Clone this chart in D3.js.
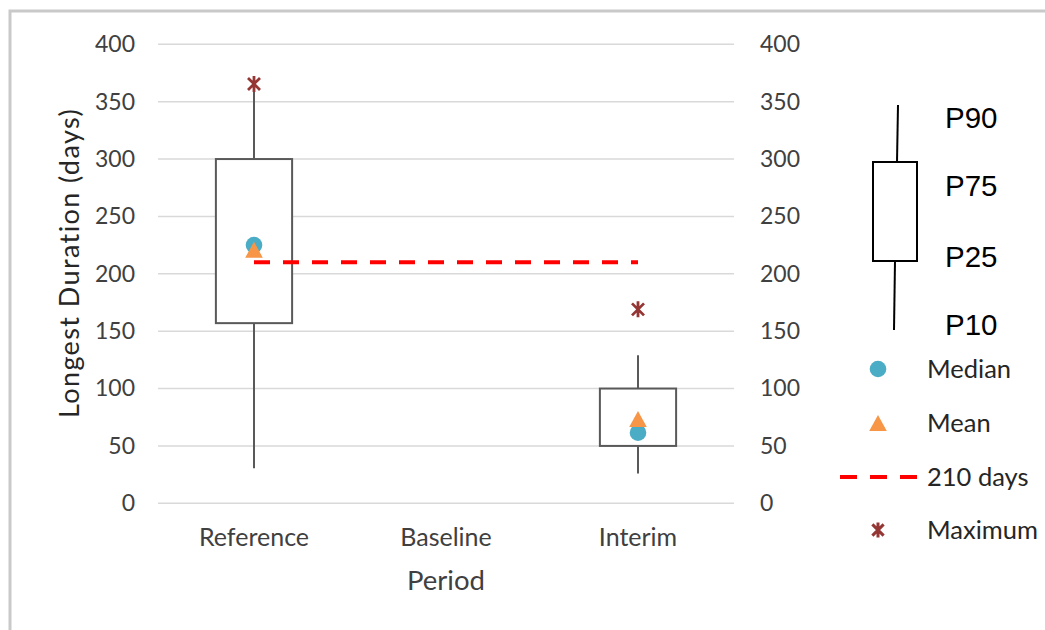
<!DOCTYPE html>
<html>
<head>
<meta charset="utf-8">
<script src="https://cdn.jsdelivr.net/npm/d3@7"></script>
<style>
  html, body { margin: 0; padding: 0; background: #ffffff; }
  svg { display: block; }
</style>
</head>
<body>
<svg id="chart" width="1045" height="630"></svg>
<script>
// ---- data ----
const categories = ["Reference", "Baseline", "Interim"];
const boxCategories = ["Reference", "Interim"];
const p10 = [30.5, 26];
const p25 = [157, 50];
const p75 = [300, 100];
const p90 = [362, 129];
const medians = [225, 61.5];
const means = [221, 73.5];
const maxima = [365.5, 169];
const thresholdDays = 210;
const yTicks = [0, 50, 100, 150, 200, 250, 300, 350, 400];
const legendPercentiles = ["P90", "P75", "P25", "P10"];
const legendItems = ["Median", "Mean", "210 days", "Maximum"];

// ---- layout ----
const svg = d3.select("#chart");
const W = 1045, H = 630;
const plot = { left: 158, right: 734, top: 44.3, bottom: 503.3 };
const calibri = "Lato, 'Open Sans', sans-serif";
const colMedian = "#4bacc6", colMean = "#f79646", colMax = "#943634", colLine = "#ff0000";

// frame
svg.append("rect").attr("x", 10).attr("y", 11).attr("width", W + 40).attr("height", H + 40)
  .attr("fill", "#ffffff").attr("stroke", "#c9c9c9").attr("stroke-width", 3);

const x = d3.scaleBand().domain(categories).range([plot.left, plot.right]).padding(0);
const xc = c => x(c) + x.bandwidth() / 2;
const y = d3.scaleLinear().domain([0, 400]).range([plot.bottom, plot.top]);

// gridlines
svg.append("g").selectAll("line").data(yTicks).join("line")
  .attr("x1", plot.left).attr("x2", plot.right)
  .attr("y1", d => y(d)).attr("y2", d => y(d))
  .attr("stroke", "#d9d9d9").attr("stroke-width", 1.5);

// left axis
const leftAxis = svg.append("g").attr("transform", `translate(${plot.left},0)`)
  .call(d3.axisLeft(y).tickValues(yTicks).tickSize(0).tickPadding(23));
// right axis
const rightAxis = svg.append("g").attr("transform", `translate(${plot.right},0)`)
  .call(d3.axisRight(y).tickValues(yTicks).tickSize(0).tickPadding(26));
[leftAxis, rightAxis].forEach(a => {
  a.select(".domain").remove();
  a.selectAll("text").attr("font-family", calibri).attr("font-size", 23)
    .attr("fill", "#404040");
});

// bottom axis labels
const bottomAxis = svg.append("g").attr("transform", `translate(0,${plot.bottom})`)
  .call(d3.axisBottom(x).tickSize(0).tickPadding(25));
bottomAxis.select(".domain").remove();
bottomAxis.selectAll("text").attr("font-family", calibri).attr("font-size", 25)
  .attr("fill", "#404040");

// axis titles
svg.append("text").attr("x", xc("Baseline")).attr("y", 590)
  .attr("text-anchor", "middle").attr("font-family", calibri).attr("font-size", 27.5)
  .attr("fill", "#404040").text("Period");
svg.append("text").attr("transform", `translate(79,263) rotate(-90)`)
  .attr("text-anchor", "middle").attr("font-family", calibri).attr("font-size", 27)
  .attr("letter-spacing", 1.4)
  .attr("fill", "#262626").text("Longest Duration (days)");

// box plot data rows
const rows = boxCategories.map((c, i) => ({
  c, p10: p10[i], p25: p25[i], p75: p75[i], p90: p90[i],
  med: medians[i], mean: means[i], max: maxima[i]
}));
const boxW = x.bandwidth() * 0.397;
const boxColor = "#595959";

const g = svg.append("g");
// whiskers
g.selectAll("line.wTop").data(rows).join("line").attr("class", "wTop")
  .attr("x1", d => xc(d.c)).attr("x2", d => xc(d.c))
  .attr("y1", d => y(d.p75)).attr("y2", d => y(d.p90))
  .attr("stroke", boxColor).attr("stroke-width", 2);
g.selectAll("line.wBot").data(rows).join("line").attr("class", "wBot")
  .attr("x1", d => xc(d.c)).attr("x2", d => xc(d.c))
  .attr("y1", d => y(d.p25)).attr("y2", d => y(d.p10))
  .attr("stroke", boxColor).attr("stroke-width", 2);
// boxes
g.selectAll("rect.box").data(rows).join("rect").attr("class", "box")
  .attr("x", d => xc(d.c) - boxW / 2).attr("width", boxW)
  .attr("y", d => y(d.p75)).attr("height", d => y(d.p25) - y(d.p75))
  .attr("fill", "#ffffff").attr("stroke", boxColor).attr("stroke-width", 2);

// 210 days dashed line
svg.append("line")
  .attr("x1", xc("Reference")).attr("x2", xc("Interim"))
  .attr("y1", y(thresholdDays)).attr("y2", y(thresholdDays))
  .attr("stroke", colLine).attr("stroke-width", 4).attr("stroke-dasharray", "16,13");

// markers
const starPath = s => {
  const d = s * 0.75;
  return `M0,${-s}L0,${s}M${-d},${-d}L${d},${d}M${-d},${d}L${d},${-d}`;
};
const triPath = s => `M0,${-s * 0.5}L${s * 0.55},${s * 0.5}L${-s * 0.55},${s * 0.5}Z`;

g.selectAll("circle.med").data(rows).join("circle").attr("class", "med")
  .attr("cx", d => xc(d.c)).attr("cy", d => y(d.med)).attr("r", 8.3)
  .attr("fill", colMedian);
g.selectAll("path.mean").data(rows).join("path").attr("class", "mean")
  .attr("transform", d => `translate(${xc(d.c)},${y(d.mean)})`)
  .attr("d", triPath(16)).attr("fill", colMean);
g.selectAll("path.max").data(rows).join("path").attr("class", "max")
  .attr("transform", d => `translate(${xc(d.c)},${y(d.max)})`)
  .attr("d", starPath(8)).attr("stroke", colMax).attr("stroke-width", 2.8)
  .attr("fill", "none");

// ---- legend ----
const lg = svg.append("g");
// box illustration
lg.append("line").attr("x1", 898).attr("y1", 105).attr("x2", 897).attr("y2", 162)
  .attr("stroke", "#000").attr("stroke-width", 2);
lg.append("rect").attr("x", 873).attr("y", 162).attr("width", 44).attr("height", 99)
  .attr("fill", "#fff").attr("stroke", "#000").attr("stroke-width", 2);
lg.append("line").attr("x1", 895).attr("y1", 261).attr("x2", 894).attr("y2", 330)
  .attr("stroke", "#000").attr("stroke-width", 2);
const pY = [128, 196, 267, 335];
lg.selectAll("text.p").data(legendPercentiles).join("text").attr("class", "p")
  .attr("x", 945).attr("y", (d, i) => pY[i])
  .attr("font-family", "'Liberation Sans', Arial, sans-serif").attr("font-size", 29.5)
  .attr("fill", "#000").text(d => d);

const itemY = [369, 423, 477, 530];
lg.append("circle").attr("cx", 878).attr("cy", itemY[0]).attr("r", 8.3).attr("fill", colMedian);
lg.append("path").attr("transform", `translate(878,${itemY[1]})`).attr("d", triPath(16)).attr("fill", colMean);
lg.append("line").attr("x1", 840).attr("x2", 917).attr("y1", itemY[2]).attr("y2", itemY[2])
  .attr("stroke", colLine).attr("stroke-width", 4).attr("stroke-dasharray", "17,13");
lg.append("path").attr("transform", `translate(878,${itemY[3]})`).attr("d", starPath(7.5))
  .attr("stroke", colMax).attr("stroke-width", 3).attr("fill", "none");
lg.selectAll("text.item").data(legendItems).join("text").attr("class", "item")
  .attr("x", 927).attr("y", (d, i) => itemY[i]).attr("dy", "0.35em")
  .attr("font-family", calibri).attr("font-size", 25.5).attr("fill", "#262626")
  .text(d => d);
</script>
</body>
</html>
